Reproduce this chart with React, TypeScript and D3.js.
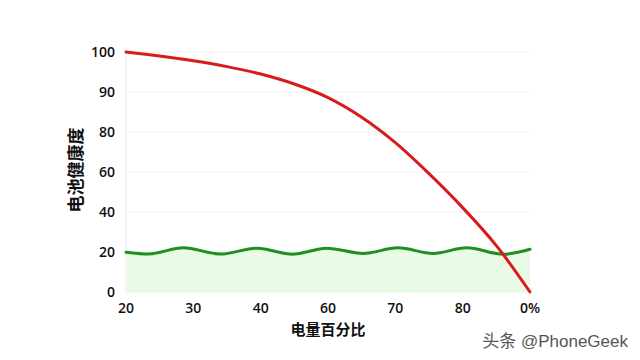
import React, { useEffect, useRef } from "react";
import * as d3 from "d3";

const xTickLabels = ["20", "30", "40", "60", "70", "80", "0%"];
const yTickValues = [0, 20, 40, 60, 80, 90, 100];
const yTickLabels = ["0", "20", "40", "60", "80", "90", "100"];

const redX = [0, 0.5, 1, 1.5, 2, 2.5, 3, 3.5, 4, 4.5, 5, 5.5, 6];
const redY = [100, 99, 97.8, 96.35, 94.5, 92, 88.6, 83.7, 74.7, 59.2, 42.2, 23.2, 0];

const greenX = [0, 0.33, 0.85, 1.4, 1.95, 2.47, 2.98, 3.52, 4.04, 4.56, 5.06, 5.6, 6];
const greenY = [19.9, 19.0, 22.1, 19.0, 21.9, 18.9, 21.9, 19.3, 22.1, 19.3, 22.1, 18.9, 21.4];

const xTitle = "电量百分比";
const yTitle = "电池健康度";
const watermark = "头条 @PhoneGeek";

const W = 640;
const H = 360;

export default function App() {
  const ref = useRef<SVGSVGElement>(null);

  useEffect(() => {
    const svg = d3.select(ref.current);
    svg.selectAll("*").remove();

    const x = d3.scaleLinear().domain([0, 6]).range([126, 530]);
    const y = d3
      .scaleLinear()
      .domain(yTickValues)
      .range([292, 252, 212, 172, 132, 92, 52]);

    svg.append("rect").attr("width", W).attr("height", H).attr("fill", "#fff");

    // gridlines
    svg
      .append("g")
      .selectAll("line")
      .data(yTickValues)
      .join("line")
      .attr("x1", x(0))
      .attr("x2", x(6))
      .attr("y1", (d) => y(d))
      .attr("y2", (d) => y(d))
      .attr("stroke", "#f0f0f0")
      .attr("stroke-width", 1);

    // left axis line
    svg
      .append("line")
      .attr("x1", x(0))
      .attr("x2", x(0))
      .attr("y1", y(100))
      .attr("y2", y(0))
      .attr("stroke", "#e6e6e6")
      .attr("stroke-width", 1);

    const green = greenX.map((v, i) => [v, greenY[i]] as [number, number]);
    const red = redX.map((v, i) => [v, redY[i]] as [number, number]);

    const area = d3
      .area<[number, number]>()
      .x((d) => x(d[0]))
      .y0(y(0))
      .y1((d) => y(d[1]))
      .curve(d3.curveMonotoneX);

    svg.append("path").attr("d", area(green)!).attr("fill", "#e9fbe6");

    const greenLine = d3
      .line<[number, number]>()
      .x((d) => x(d[0]))
      .y((d) => y(d[1]))
      .curve(d3.curveMonotoneX);

    const redLine = d3
      .line<[number, number]>()
      .x((d) => x(d[0]))
      .y((d) => y(d[1]))
      .curve(d3.curveCatmullRom.alpha(0.5));

    svg
      .append("path")
      .attr("d", greenLine(green)!)
      .attr("fill", "none")
      .attr("stroke", "#1f8f1f")
      .attr("stroke-width", 3)
      .attr("stroke-linecap", "round");

    svg
      .append("path")
      .attr("d", redLine(red)!)
      .attr("fill", "none")
      .attr("stroke", "#d81c1c")
      .attr("stroke-width", 3)
      .attr("stroke-linecap", "round");

    const numFont = "'Open Sans', 'Noto Sans', sans-serif";
    const cjkFont = "'Noto Sans CJK SC', sans-serif";

    // y tick labels
    svg
      .append("g")
      .selectAll("text")
      .data(yTickValues)
      .join("text")
      .attr("x", 115)
      .attr("y", (d) => y(d))
      .attr("dy", "0.35em")
      .attr("text-anchor", "end")
      .attr("font-family", numFont)
      .attr("font-weight", 600)
      .attr("font-size", 14)
      .attr("fill", "#111")
      .text((d, i) => yTickLabels[i]);

    // x tick labels
    svg
      .append("g")
      .selectAll("text")
      .data(xTickLabels)
      .join("text")
      .attr("x", (d, i) => x(i))
      .attr("y", 308)
      .attr("dy", "0.35em")
      .attr("text-anchor", "middle")
      .attr("font-family", numFont)
      .attr("font-weight", 600)
      .attr("font-size", 14)
      .attr("fill", "#111")
      .text((d) => d);

    svg
      .append("text")
      .attr("x", 328)
      .attr("y", 330)
      .attr("dy", "0.35em")
      .attr("text-anchor", "middle")
      .attr("font-family", cjkFont)
      .attr("font-weight", 700)
      .attr("font-size", 15)
      .attr("fill", "#111")
      .text(xTitle);

    svg
      .append("text")
      .attr("transform", "translate(76,170) rotate(-90)")
      .attr("dy", "0.35em")
      .attr("text-anchor", "middle")
      .attr("font-family", cjkFont)
      .attr("font-weight", 700)
      .attr("font-size", 17)
      .attr("fill", "#111")
      .text(yTitle);

    svg
      .append("text")
      .attr("x", 628)
      .attr("y", 341)
      .attr("dy", "0.35em")
      .attr("text-anchor", "end")
      .attr("font-family", "'Liberation Sans', 'Noto Sans CJK SC', sans-serif")
      .attr("font-size", 17)
      .attr("fill", "#555")
      .text(watermark);
  }, []);

  return (
    <svg
      ref={ref}
      width={W}
      height={H}
      style={{ position: "absolute", left: 0, top: 0, display: "block" }}
    />
  );
}
